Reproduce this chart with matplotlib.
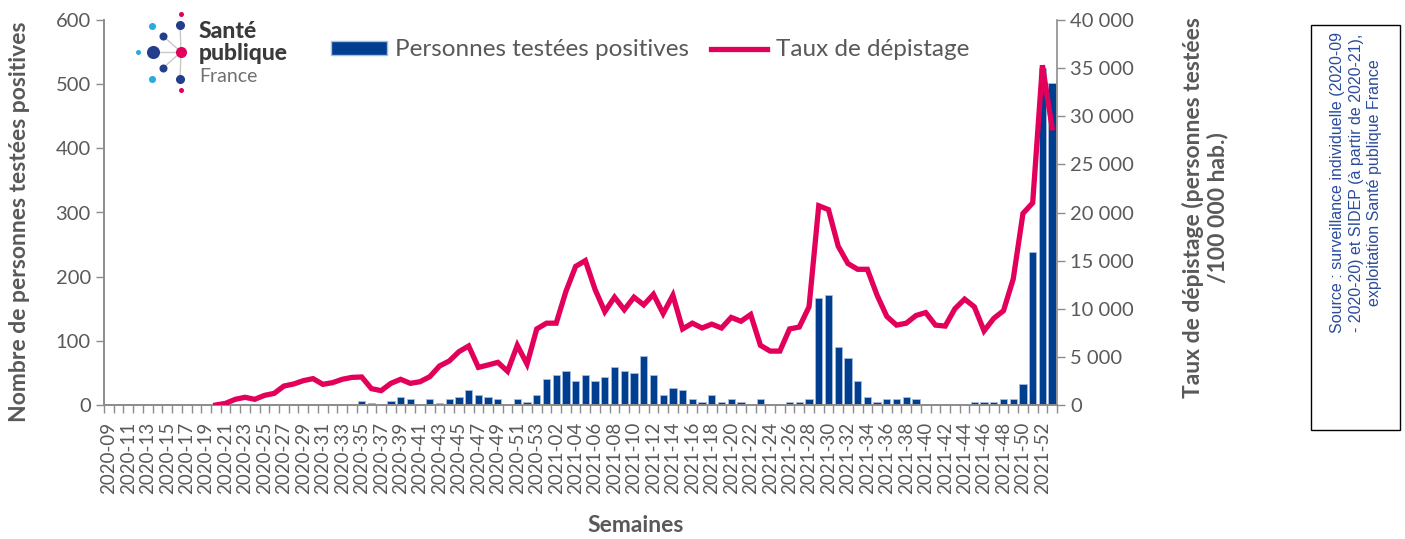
import numpy as np
import matplotlib.pyplot as plt
from matplotlib.patches import Rectangle, Patch
from matplotlib.lines import Line2D
from matplotlib.ticker import FuncFormatter

# semaines (2020-09 -> 2022-01)
weeks = ([f"2020-{w:02d}" for w in range(9, 54)] +
         [f"2021-{w:02d}" for w in range(1, 53)] + ["2022-01"])

# nombre de personnes testées positives
positives = [1, 0, 1, 0, 1, 0, 0, 0, 0, 0, 0, 0, 0, 0, 0, 0, 1, 1, 0, 0,
             1, 0, 1, 1, 1, 1, 6, 3, 0, 6, 12, 9, 0, 9, 3, 9, 12, 24, 15, 12,
             9, 0, 9, 4, 15, 41, 47, 53, 38, 47, 38, 44, 59, 53, 50, 76, 47, 15, 27, 24,
             9, 4, 15, 4, 9, 4, 0, 9, 0, 0, 4, 4, 9, 166, 172, 91, 73, 38, 12, 4,
             9, 9, 12, 9, 0, 0, 1, 1, 0, 4, 4, 4, 9, 9, 33, 239, 525, 502]

# taux de dépistage (/100 000 hab.)
nan = np.nan
rate = [nan] * 11 + [
    0, 170, 590, 800, 590, 1000, 1210, 1970, 2180, 2530,
    2740, 2150, 2320, 2670, 2870, 2910, 1700, 1490, 2250, 2670,
    2250, 2420, 2940, 4050, 4570, 5540, 6130, 3910, 4160, 4430,
    3500, 6200, 4250, 7900, 8500, 8500, 11800, 14400, 15000,
    12000, 9700, 11200, 9900, 11200, 10400, 11500, 9500, 11400, 7900,
    8500, 8000, 8400, 8000, 9100, 8700, 9400, 6200, 5600, 5600,
    7900, 8100, 10200,
    20700, 20300, 16500, 14700, 14100, 14100, 11400, 9200, 8300, 8500,
    9300, 9600, 8300, 8200, 10000, 11000, 10200, 7700, 9000, 9800,
    13100, 19900, 21000, 35300, 28800]

BLUE = "#003E8F"
PINK = "#E3005B"
GREY = "#595959"
AXC = "#8C8C8C"

plt.rcParams['font.family'] = ['Lato', 'DejaVu Sans']

W, H = 1405, 539
fig = plt.figure(figsize=(W / 100, H / 100), dpi=100)
ax = fig.add_axes([104 / W, 1 - 405 / H, (1057 - 104) / W, (405 - 20) / H])
ax2 = ax.twinx()

x = np.arange(len(weeks))
ax.bar(x, positives, width=0.75, color=BLUE, edgecolor="#A8BCDD", linewidth=0.6, zorder=2)
ax2.plot(x, rate, color=PINK, lw=3.8, solid_joinstyle='miter', zorder=3)

ax.set_xlim(-0.5, len(weeks) - 0.5)
ax.set_ylim(0, 600)
ax2.set_ylim(0, 40000)
ax.set_yticks(np.arange(0, 601, 100))
ax2.set_yticks(np.arange(0, 40001, 5000))
ax2.yaxis.set_major_formatter(FuncFormatter(lambda v, p: f"{int(v):,}".replace(",", " ")))

ax.set_xticks(x[::2])
ax.set_xticklabels(weeks[::2], rotation=90)
ax.set_xticks(np.arange(-0.5, len(weeks), 1), minor=True)
ax.tick_params(axis='x', which='major', length=0, pad=12, labelsize=13.5, labelcolor=GREY)
ax.tick_params(axis='x', which='minor', length=6, color=AXC, width=1)
ax.tick_params(axis='y', length=6, color=AXC, width=1, labelsize=14.5, labelcolor=GREY)
ax2.tick_params(axis='y', length=6, color=AXC, width=1, labelsize=14.5, labelcolor=GREY)

for a in (ax, ax2):
    a.spines['top'].set_visible(False)
    for s in ('left', 'right', 'bottom'):
        a.spines[s].set_color(AXC)
        a.spines[s].set_linewidth(1.2)
ax.spines['right'].set_visible(False)

fig.text(20 / W, 1 - 222 / H, "Nombre de personnes testées positives", rotation=90,
         ha='center', va='center', fontsize=16.5, fontweight='bold', color=GREY)
fig.text(1205 / W, 1 - 208 / H, "Taux de dépistage (personnes testées\n/100 000 hab.)",
         rotation=90, ha='center', va='center', multialignment='center',
         fontsize=16.5, fontweight='bold', color=GREY, linespacing=1.15)
fig.text(636 / W, 1 - 525 / H, "Semaines", ha='center', va='center',
         fontsize=16.5, fontweight='bold', color=GREY)

handles = [Patch(facecolor=BLUE, edgecolor="#A8BCDD"), Line2D([], [], color=PINK, lw=3.8)]
fig.legend(handles, ["Personnes testées positives", "Taux de dépistage"],
           loc='center', bbox_to_anchor=(650 / W, 1 - 50 / H), ncol=2, frameon=False,
           fontsize=17.5, labelcolor=GREY, handlelength=2.3, handleheight=0.55,
           columnspacing=0.9, handletextpad=0.35)

# encadré source
fig.patches.append(Rectangle((1311 / W, 1 - 430 / H), 89 / W, 405 / H,
                             transform=fig.transFigure, fill=False,
                             edgecolor="black", linewidth=1))
fig.text(1356 / W, 1 - 32 / H,
         "Source : surveillance individuelle (2020-09\n- 2020-20) et SIDEP (à partir de 2020-21),\nexploitation Santé publique France",
         rotation=90, ha='center', va='top', fontsize=11.5, color="#2B4C9B",
         family=['Liberation Sans', 'DejaVu Sans'], linespacing=1.3)

# logo Santé publique France
lg = fig.add_axes([125 / W, 1 - 98 / H, 180 / W, 96 / H])
lg.set_xlim(125, 305)
lg.set_ylim(98, 2)
lg.axis('off')
cx, cy = 181, 52
for px, py in [(153, 52), (180, 25), (180, 79), (163, 36), (163, 68)]:
    lg.plot([cx, px], [cy, py], color="#C8C8C8", lw=1, zorder=1)
dots = [(181, 14, 2.5, PINK), (180, 25, 4.5, "#233E8B"), (152, 26, 3.5, "#29ABE2"),
        (163, 36, 4, "#233E8B"), (153, 52, 6.5, "#233E8B"), (138, 52, 2.5, "#29ABE2"),
        (181, 52, 5.5, PINK), (163, 68, 4, "#233E8B"), (152, 79, 3.5, "#29ABE2"),
        (180, 79, 4.5, "#233E8B"), (181, 90, 2.5, PINK)]
for px, py, r, c in dots:
    lg.scatter(px, py, s=(r * 1.45) ** 2, color=c, zorder=2, linewidths=0)
lg.text(199, 31, "Santé", fontsize=16.5, fontweight='black', color="#3A3A3A", va='center')
lg.text(199, 54, "publique", fontsize=16.5, fontweight='black', color="#3A3A3A", va='center')
lg.text(199, 77, "France", fontsize=14, color="#707070", va='center')

fig.savefig("out.png", dpi=100)
